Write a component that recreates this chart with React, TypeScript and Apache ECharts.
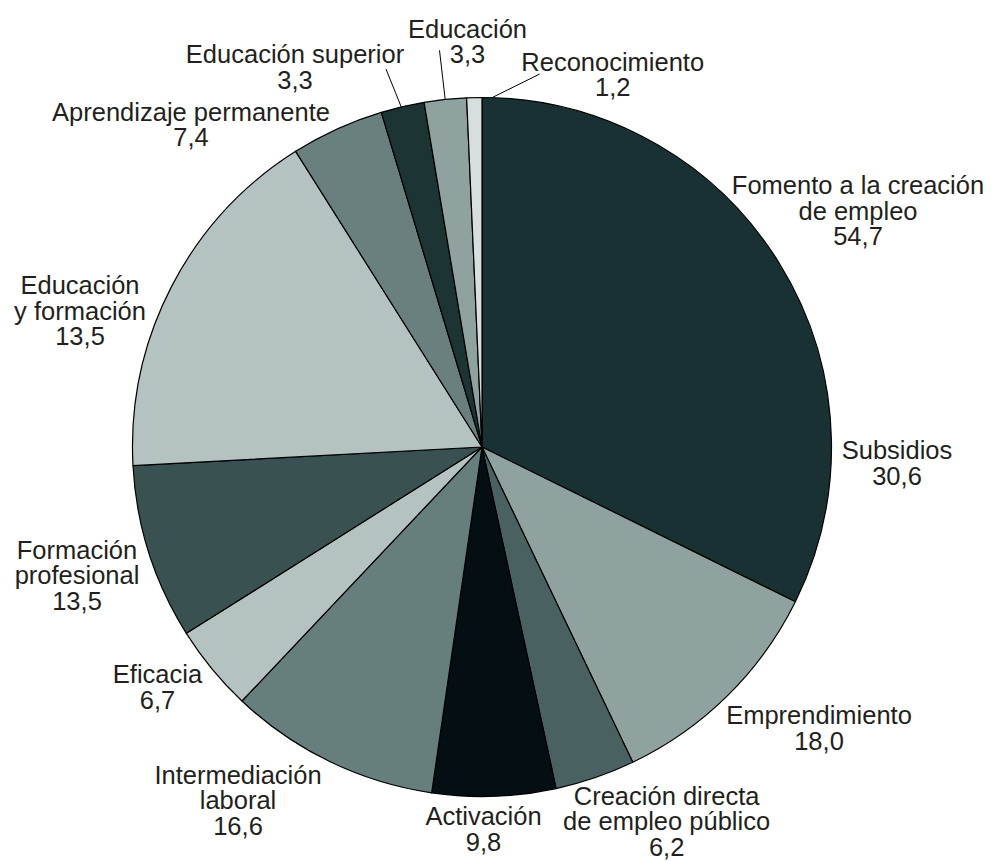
import React, { useEffect, useRef } from 'react';
import * as echarts from 'echarts';

// ---- data ----
const categories = [
  'Subsidios',
  'Emprendimiento',
  'Creación directa\nde empleo público',
  'Activación',
  'Intermediación\nlaboral',
  'Eficacia',
  'Formación\nprofesional',
  'Educación\ny formación',
  'Aprendizaje permanente',
  'Educación superior',
  'Educación',
  'Reconocimiento',
];
// values printed in the labels
const labelValues = [30.6, 18.0, 6.2, 9.8, 16.6, 6.7, 13.5, 13.5, 7.4, 3.3, 3.3, 1.2];
// share of the circle each slice takes in the picture (%)
const sliceShares = [32.3, 10.6, 3.7, 5.7, 9.75, 4.0, 8.1, 16.9, 4.3, 2.0, 1.95, 0.7];
const groupLabel = 'Fomento a la creación\nde empleo';
const groupValue = 54.7;

// ---- styles / layout ----
const colors = [
  '#1a3133', '#8fa29f', '#4a6161', '#040f13', '#667e7c', '#b4c3c1',
  '#3a5152', '#b4c3c1', '#6a807e', '#1d3435', '#8fa29f', '#d6dfdd',
];
const CX = 482;
const CY = 447;
const R = 349.5;
const FONT = '"Liberation Sans", Arial, Helvetica, sans-serif';
const FS = 25.5;
const LH = 25.5;
const labelAnchors: [number, number][] = [
  [897, 463], [819, 728], [666.6, 821], [483.5, 829], [238, 800.3], [157.5, 686.8],
  [77, 575], [80, 310.7], [191, 124.5], [295, 67.1], [467.5, 41.3], [612.7, 74.6],
];
const leaderEnds: ([number, number] | null)[] = [
  null, null, null, null, null, null, null, null, null, [91, 2], [-28, 9], [-73, -0.6],
];
const groupAnchor: [number, number] = [858, 210.6];

const fmt = (v: number) => v.toFixed(1).replace('.', ',');

export default function App() {
  const ref = useRef<HTMLDivElement>(null);
  useEffect(() => {
    if (!ref.current) return;
    const chart = echarts.init(ref.current, undefined, { renderer: 'svg' });
    const total = sliceShares.reduce((a, b) => a + b, 0);
    const midAngles: number[] = [];
    let cum = 0;
    sliceShares.forEach((s) => {
      midAngles.push(((cum + s / 2) / total) * 360);
      cum += s;
    });
    chart.setOption({
      animation: false,
      backgroundColor: '#ffffff',
      graphic: [
        {
          type: 'text',
          x: groupAnchor[0],
          y: groupAnchor[1],
          style: {
            text: groupLabel + '\n' + fmt(groupValue),
            fontFamily: FONT,
            fontSize: FS,
            lineHeight: LH,
            fill: '#231f20',
            align: 'center',
            verticalAlign: 'middle',
          },
        },
      ],
      series: [
        {
          type: 'pie',
          center: [CX, CY],
          radius: [0, R],
          startAngle: 90,
          clockwise: true,
          avoidLabelOverlap: false,
          emphasis: { disabled: true },
          itemStyle: { borderColor: '#000', borderWidth: 1.2 },
          label: {
            show: true,
            position: 'outside',
            fontFamily: FONT,
            fontSize: FS,
            lineHeight: LH,
            color: '#231f20',
            formatter: (p: any) => `${categories[p.dataIndex]}\n${fmt(labelValues[p.dataIndex])}`,
          },
          labelLine: { show: false },
          labelLayout: (params: any) => {
            const i = params.dataIndex;
            const [x, y] = labelAnchors[i];
            const out: any = { x, y, align: 'center', verticalAlign: 'middle' };
            const end = leaderEnds[i];
            if (end) {
              const a = (midAngles[i] * Math.PI) / 180;
              const sx = CX + R * 0.975 * Math.sin(a);
              const sy = CY - R * 0.975 * Math.cos(a);
              const ex = x + end[0];
              const ey = y + end[1];
              out.labelLinePoints = [[sx, sy], [(sx + ex) / 2, (sy + ey) / 2], [ex, ey]];
            }
            return out;
          },
          data: categories.map((name, i) => ({
            name,
            value: sliceShares[i],
            itemStyle: { color: colors[i] },
            labelLine: leaderEnds[i]
              ? { show: true, length: 10, length2: 0, lineStyle: { color: '#000', width: 1 } }
              : { show: false },
          })),
        },
      ],
    });
    return () => chart.dispose();
  }, []);
  return (
    <div
      ref={ref}
      style={{ position: 'fixed', left: 0, top: 0, width: 992, height: 861, background: '#fff' }}
    />
  );
}
